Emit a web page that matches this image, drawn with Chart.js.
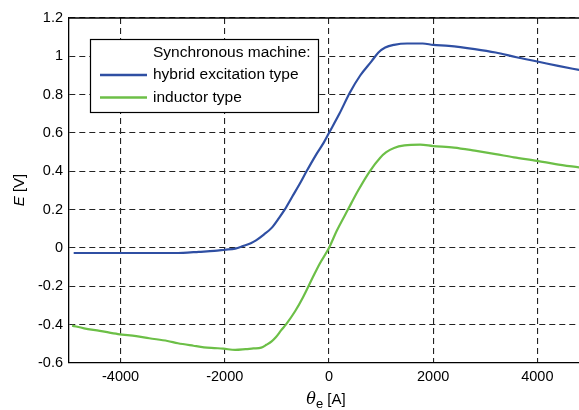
<!DOCTYPE html>
<html>
<head>
<meta charset="utf-8">
<script src="https://cdn.jsdelivr.net/npm/chart.js@4/dist/chart.umd.min.js"></script>
<style>
  html, body { margin: 0; padding: 0; background: #fff; }
  #wrap { width: 579px; height: 410px; }
</style>
</head>
<body>
<div id="wrap"><canvas id="mainChart"></canvas></div>
<script>
'use strict';

// theta_e [A] vs E [V]
const thetaHybrid = [-4900, -4500, -4000, -3500, -3000, -2800, -2500, -2200, -2000, -1800, -1650, -1500, -1400, -1250, -1100, -950, -850, -700, -560, -430, -240, -100, 0, 200, 400, 600, 820, 950, 1080, 1250, 1500, 1800, 2000, 2300, 2800, 3200, 3600, 4000, 4400, 4820];
const eHybrid     = [-0.026, -0.026, -0.026, -0.026, -0.026, -0.025, -0.02, -0.015, -0.009, -0.003, 0.01, 0.025, 0.04, 0.07, 0.105, 0.16, 0.2, 0.27, 0.335, 0.4, 0.49, 0.55, 0.6, 0.7, 0.81, 0.9, 0.975, 1.02, 1.046, 1.06, 1.067, 1.067, 1.06, 1.055, 1.038, 1.02, 0.995, 0.973, 0.95, 0.928];

const thetaInductor = [-4930, -4700, -4400, -4050, -3700, -3450, -3100, -2900, -2600, -2400, -2200, -2030, -1800, -1600, -1450, -1300, -1200, -1100, -1020, -920, -820, -650, -500, -310, -180, 0, 150, 370, 560, 790, 980, 1100, 1250, 1450, 1750, 2000, 2400, 2800, 3200, 3550, 4000, 4350, 4820];
const eInductor     = [-0.405, -0.419, -0.432, -0.449, -0.46, -0.471, -0.485, -0.497, -0.51, -0.518, -0.522, -0.525, -0.532, -0.528, -0.524, -0.52, -0.505, -0.487, -0.466, -0.43, -0.397, -0.33, -0.258, -0.153, -0.083, 0.0, 0.09, 0.203, 0.3, 0.403, 0.47, 0.5, 0.522, 0.535, 0.539, 0.532, 0.524, 0.508, 0.49, 0.473, 0.455, 0.438, 0.42];

const xTicks = [-4000, -2000, 0, 2000, 4000];
const legendTitle = 'Synchronous machine:';
const seriesNames = ['hybrid excitation type', 'inductor type'];
const seriesColors = ['#2f4fa3', '#6cbf47'];

const FONT = 'Liberation Sans, Arial, sans-serif';

function pts(xs, ys) { return xs.map((x, i) => ({ x, y: ys[i] })); }

const ctx = document.getElementById('mainChart').getContext('2d');

const chartInstance = new Chart(ctx, {
    type: 'line',
    data: {
        datasets: [
            {
                label: seriesNames[0],
                data: pts(thetaHybrid, eHybrid),
                borderColor: seriesColors[0],
                borderWidth: 2.2,
                pointRadius: 0,
                cubicInterpolationMode: 'monotone',
                fill: false,
            },
            {
                label: seriesNames[1],
                data: pts(thetaInductor, eInductor),
                borderColor: seriesColors[1],
                borderWidth: 2.2,
                pointRadius: 0,
                cubicInterpolationMode: 'monotone',
                fill: false,
            },
        ],
    },
    options: {
        responsive: true,
        maintainAspectRatio: false,
        animation: false,
        layout: { padding: { top: 18, right: 0, left: 0, bottom: 0 } },
        plugins: { legend: { display: false }, tooltip: { enabled: false } },
        scales: {
            x: {
                type: 'linear',
                min: -4990,
                max: 4800,
                afterBuildTicks(axis) { axis.ticks = xTicks.map(v => ({ value: v })); },
                afterFit(axis) { axis.height = 47; },
                ticks: {
                    color: '#000',
                    padding: 5,
                    font: { family: FONT, size: 14.5 },
                    callback: v => String(v),
                },
                grid: { color: '#222', lineWidth: 1.1, drawTicks: false },
                border: { display: true, color: '#000', width: 1.3, dash: [6, 4] },
            },
            y: {
                min: -0.6,
                max: 1.2,
                afterFit(axis) { axis.width = 69; },
                ticks: {
                    stepSize: 0.2,
                    color: '#000',
                    padding: 6,
                    font: { family: FONT, size: 14.5 },
                    callback: v => String(Math.round(v * 10) / 10),
                },
                grid: { color: '#222', lineWidth: 1.1, drawTicks: false },
                border: { display: true, color: '#000', width: 1.3, dash: [6, 4] },
            },
        },
    },
    plugins: [{
        id: 'frameAndLabels',
        afterDraw(chart) {
            const { ctx, chartArea: { left, right, top } } = chart;
            ctx.save();
            // top frame line
            ctx.strokeStyle = '#000';
            ctx.lineWidth = 1.3;
            ctx.beginPath(); ctx.moveTo(left, top); ctx.lineTo(right, top); ctx.stroke();

            // y title: italic E + " [V]", rotated
            ctx.fillStyle = '#000';
            ctx.translate(20, 190);
            ctx.rotate(-Math.PI / 2);
            ctx.textBaseline = 'middle';
            ctx.textAlign = 'left';
            ctx.font = 'italic 15px ' + FONT;
            const wE = ctx.measureText('E').width;
            ctx.font = '15px ' + FONT;
            const wV = ctx.measureText(' [V]').width;
            const x0 = -(wE + wV) / 2;
            ctx.font = 'italic 15px ' + FONT;
            ctx.fillText('E', x0, 0);
            ctx.font = '15px ' + FONT;
            ctx.fillText(' [V]', x0 + wE, 0);
            ctx.restore();

            // x title: italic theta, subscript e, " [A]"
            ctx.save();
            ctx.fillStyle = '#000';
            ctx.textBaseline = 'alphabetic';
            ctx.textAlign = 'left';
            ctx.font = 'italic 16px DejaVu Serif, serif';
            const wT = ctx.measureText('\u03b8').width;
            ctx.font = '13px ' + FONT;
            const wSub = ctx.measureText('e').width;
            ctx.font = '15px ' + FONT;
            const wA = ctx.measureText(' [A]').width;
            const xs = 326 - (wT + wSub + wA) / 2;
            ctx.font = 'italic 16px DejaVu Serif, serif';
            ctx.fillText('\u03b8', xs, 404);
            ctx.font = '13px ' + FONT;
            ctx.fillText('e', xs + wT, 408);
            ctx.font = '15px ' + FONT;
            ctx.fillText(' [A]', xs + wT + wSub, 404);
            ctx.restore();

            // legend box
            ctx.save();
            const bx = 90, by = 39, bw = 228, bh = 73;
            ctx.fillStyle = '#fff';
            ctx.fillRect(bx, by, bw, bh);
            ctx.strokeStyle = '#000';
            ctx.lineWidth = 1.2;
            ctx.strokeRect(bx + 0.5, by + 0.5, bw, bh);
            ctx.font = '15.5px ' + FONT;
            ctx.fillStyle = '#000';
            ctx.textBaseline = 'middle';
            ctx.textAlign = 'left';
            ctx.fillText(legendTitle, 153, 53);
            chart.data.datasets.forEach((ds, i) => {
                const yy = 75 + i * 22.5;
                ctx.strokeStyle = ds.borderColor;
                ctx.lineWidth = 2.5;
                ctx.beginPath(); ctx.moveTo(100, yy); ctx.lineTo(147, yy); ctx.stroke();
                ctx.fillStyle = '#000';
                ctx.fillText(ds.label, 153, yy);
            });
            ctx.restore();
        },
    }],
});
</script>
</body>
</html>
